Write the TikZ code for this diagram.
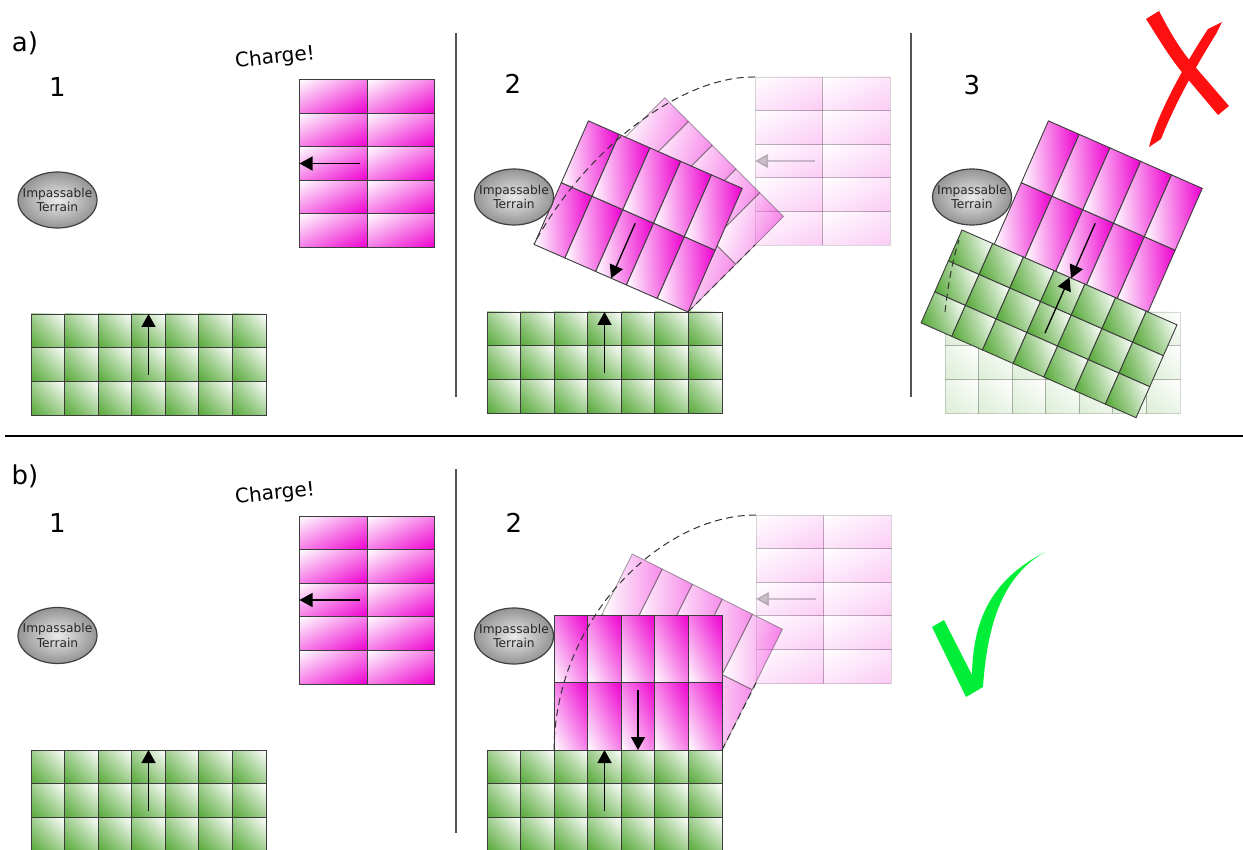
\documentclass[tikz,border=0pt]{standalone}
\usepackage{fontspec}
\setmainfont{DejaVu Sans}
\usetikzlibrary{arrows.meta,shapes.geometric,shadings}
\definecolor{mag}{RGB}{238,0,208}
\definecolor{grn}{RGB}{85,168,55}
\definecolor{cellline}{RGB}{60,60,60}
\definecolor{xred}{RGB}{255,16,16}
\definecolor{chk}{RGB}{0,238,55}
\definecolor{sepgray}{RGB}{85,85,85}
\tikzset{
  magcell/.style={draw=cellline, line width=0.9pt, shade, upper left=white, upper right=mag!50!white, lower left=mag!50!white, lower right=mag},
  grncell/.style={draw=cellline, line width=0.9pt, shade, upper left=grn!55!white, upper right=white, lower left=grn, lower right=grn!55!white},
  movearrow/.style={line width=1.3pt, -{Triangle[length=13pt,width=14pt]}},
  terrainshape/.style={ellipse, draw=black!75, line width=1.2pt, minimum width=79pt, minimum height=56pt, inner sep=0pt, shade, inner color=white!92!black, outer color=black!42},
  terraintext/.style={align=center, inner sep=0pt, font=\fontsize{12.2}{14.3}\selectfont, text=black!85},
  numlabel/.style={inner sep=0pt, font=\fontsize{26}{30}\selectfont},
  chargelabel/.style={inner sep=0pt, rotate=6, font=\fontsize{20}{24}\selectfont},
  trail/.style={line width=1pt, black!80, dash pattern=on 7pt off 4.5pt},
  separator/.style={line width=2pt, sepgray},
}
\newcommand{\MagBlock}[1]{%
  \foreach \i in {0,1}{\foreach \j in {0,...,4}{%
    \path[magcell, fill opacity=#1, draw opacity=#1] ({\i*67.5},{\j*33.6}) rectangle ++(67.5,33.6);}}%
  \draw[movearrow, opacity=#1] (60,84) -- (0,84);%
}
\newcommand{\GrnBlock}[1]{%
  \foreach \i in {0,...,6}{\foreach \j in {0,1,2}{%
    \path[grncell, fill opacity=#1, draw opacity=#1] ({\i*33.57},{\j*33.83}) rectangle ++(33.57,33.83);}}%
  \draw[movearrow, opacity=#1] (117.5,61) -- (117.5,0);%
}
\begin{document}
\begin{tikzpicture}[x=1pt,y=-1pt]
\useasboundingbox (0,0) rectangle (1243,850);
\fill[white] (0,0) rectangle (1243,850);

% separators
\draw[separator] (456,33) -- (456,397);
\draw[separator] (911,33) -- (911,397);
\draw[separator] (456,469) -- (456,833);
\draw[line width=2.5pt, black] (5,436) -- (1243,436);

% ---------------- a1
\node[numlabel] (la) at (25,43) {a)};
\node[numlabel] (na1) at (57.5,87) {1};
\node[chargelabel] (cha) at (275,58) {Charge!};
\begin{scope}[shift={(299.5,79.5)}] \MagBlock{1} \end{scope}
\begin{scope}[shift={(31,314)}] \GrnBlock{1} \end{scope}
\node[terrainshape] (ta1) at (57.5,200) {};
\node[terraintext] (ta1t) at (ta1) {Impassable\\Terrain};

% ---------------- a2
\node[numlabel] (na2) at (513,84) {2};
\begin{scope}[shift={(755,77)}] \MagBlock{0.2} \end{scope}
\begin{scope}[transform canvas={shift={(688,312)},rotate=45}]
  \begin{scope}[shift={(0,-168)}] \MagBlock{0.45} \end{scope}
\end{scope}
\begin{scope}[shift={(487,312)}] \GrnBlock{1} \end{scope}
\begin{scope}[transform canvas={shift={(688,312)},rotate=66.3}]
  \begin{scope}[shift={(0,-168)}] \MagBlock{1} \end{scope}
\end{scope}
\coordinate (a2s) at (755,77);
\coordinate (a2e) at (534,244);
\coordinate (a2p) at (688,312);
\coordinate (a2q) at (755,245);
\draw[trail] (a2s) .. controls (680,76) and (585,150) .. (a2e);
\draw[trail] (a2p) -- (a2q);
\node[terrainshape] (ta2) at (514,197) {};
\node[terraintext] (ta2t) at (ta2) {Impassable\\Terrain};

% ---------------- a3
\node[numlabel] (na3) at (972,85) {3};
\begin{scope}[shift={(945,312)}] \GrnBlock{0.2} \end{scope}
\begin{scope}[transform canvas={shift={(1148,312)},rotate=66.3}]
  \begin{scope}[shift={(0,-168)}] \MagBlock{1} \end{scope}
\end{scope}
\begin{scope}[transform canvas={shift={(962,230)},rotate=-23.8}]
  \GrnBlock{1}
\end{scope}
\coordinate (a3s) at (945,312);
\coordinate (a3e) at (959,240);
\draw[trail] (a3s) .. controls (948,285) and (952,262) .. (a3e);
\node[terrainshape] (ta3) at (972,197) {};
\node[terraintext] (ta3t) at (ta3) {Impassable\\Terrain};
% red cross
\fill[xred] (1146,19) -- (1159,11) .. controls (1172,36) and (1181,50) .. (1191,62) -- (1229,106) -- (1218,115) -- (1181,71) .. controls (1168,55) and (1157,36) .. cycle;
\fill[xred] (1208,29) -- (1222,22) -- (1216,34) .. controls (1198,63) and (1176,101) .. (1161,139) -- (1149,147) .. controls (1156,118) and (1181,70) .. cycle;

% ---------------- b1
\node[numlabel] (lb) at (25,476) {b)};
\node[numlabel] (nb1) at (57.5,523) {1};
\node[chargelabel] (chb) at (275,494) {Charge!};
\begin{scope}[shift={(299.5,516)}] \MagBlock{1} \end{scope}
\begin{scope}[shift={(31,750)}] \GrnBlock{1} \end{scope}
\node[terrainshape] (tb1) at (57.5,635.5) {};
\node[terraintext] (tb1t) at (tb1) {Impassable\\Terrain};

% ---------------- b2
\node[numlabel] (nb2) at (514,523) {2};
\begin{scope}[shift={(756,515)}] \MagBlock{0.2} \end{scope}
\begin{scope}[transform canvas={shift={(722,750)},rotate=63.4}]
  \begin{scope}[shift={(0,-168)}] \MagBlock{0.45} \end{scope}
\end{scope}
\begin{scope}[shift={(487,750)}] \GrnBlock{1} \end{scope}
\begin{scope}[transform canvas={shift={(722,750)},rotate=90}]
  \begin{scope}[shift={(0,-168)}] \MagBlock{1} \end{scope}
\end{scope}
\coordinate (b2s) at (756,515);
\coordinate (b2e) at (554,750);
\coordinate (b2p) at (722,750);
\coordinate (b2q) at (756,683);
\draw[trail] (b2s) .. controls (660,515) and (555,620) .. (b2e);
\draw[trail] (b2p) -- (b2q);
\node[terrainshape] (tb2) at (514,636) {};
\node[terraintext] (tb2t) at (tb2) {Impassable\\Terrain};
% check mark
\fill[chk] (932,627) -- (944,620) -- (972,675) .. controls (973,615) and (995,578) .. (1045,552) .. controls (1010,572) and (988,610) .. (983,687) -- (966,697) -- cycle;
\end{tikzpicture}
\end{document}
